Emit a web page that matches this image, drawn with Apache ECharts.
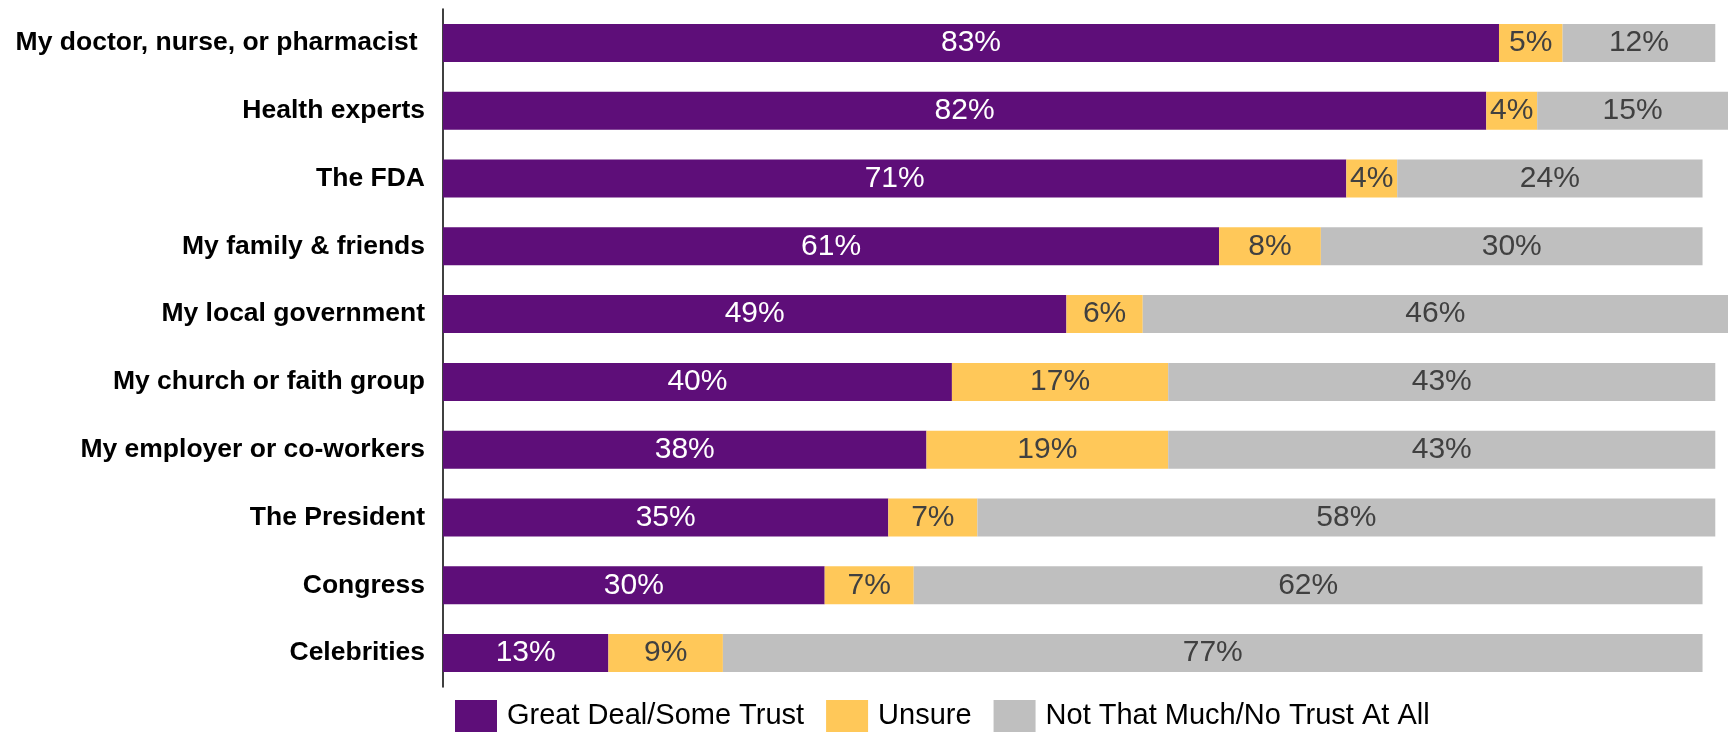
<!DOCTYPE html>
<html>
<head>
<meta charset="utf-8">
<script src="https://cdn.jsdelivr.net/npm/echarts@6/dist/echarts.min.js"></script>
<style>
    html, body { margin: 0; padding: 0; background: #fff; }
    #chart { width: 1733px; height: 734px; }
</style>
</head>
<body>
<div id="chart"></div>
<script>
    // 各类信息来源
    let sources = [
        'My doctor, nurse, or pharmacist ',
        'Health experts',
        'The FDA',
        'My family & friends',
        'My local government',
        'My church or faith group',
        'My employer or co-workers',
        'The President',
        'Congress',
        'Celebrities'
    ];
    let trustList = [83, 82, 71, 61, 49, 40, 38, 35, 30, 13];
    let unsureList = [5, 4, 4, 8, 6, 17, 19, 7, 7, 9];
    let noTrustList = [12, 15, 24, 30, 46, 43, 43, 58, 62, 77];

    let myChart = echarts.init(document.getElementById('chart'));

    let barLabel = function (color) {
        return {
            show: true,
            position: 'inside',
            formatter: '{c}%',
            color: color,
            fontSize: 30,
            fontFamily: 'Liberation Sans, Arial, sans-serif'
        };
    };

    let option = {
        animation: false,
        textStyle: {
            fontFamily: 'Liberation Sans, Arial, sans-serif'
        },
        legend: {
            left: 455,
            top: 700,
            padding: 0,
            itemWidth: 42,
            itemHeight: 32,
            itemGap: 22,
            icon: 'rect',
            textStyle: {
                fontSize: 29,
                color: '#000',
                padding: [0, 0, 0, 5]
            },
            data: ['Great Deal/Some Trust', 'Unsure', 'Not That Much/No Trust At All']
        },
        grid: {
            left: 443,
            right: 5,
            top: 9,
            bottom: 47
        },
        xAxis: {
            type: 'value',
            min: 0,
            max: 101,
            show: false
        },
        yAxis: {
            type: 'category',
            inverse: true,
            data: sources,
            axisLine: {show: true, lineStyle: {color: '#000', width: 1.5}},
            axisTick: {show: false},
            axisLabel: {
                margin: 18,
                fontSize: 26.5,
                fontWeight: 'bold',
                color: '#000'
            }
        },
        series: [{
            name: 'Great Deal/Some Trust',
            type: 'bar',
            stack: 'all',
            barWidth: 38,
            data: trustList,
            itemStyle: {color: '#5E0E79'},
            label: barLabel('#fff')
        }, {
            name: 'Unsure',
            type: 'bar',
            stack: 'all',
            barWidth: 38,
            data: unsureList,
            itemStyle: {color: '#FFC859'},
            label: barLabel('#404040')
        }, {
            name: 'Not That Much/No Trust At All',
            type: 'bar',
            stack: 'all',
            barWidth: 38,
            data: noTrustList,
            itemStyle: {color: '#BFBFBF'},
            label: barLabel('#404040')
        }]
    };
    myChart.setOption(option);
</script>
</body>
</html>
